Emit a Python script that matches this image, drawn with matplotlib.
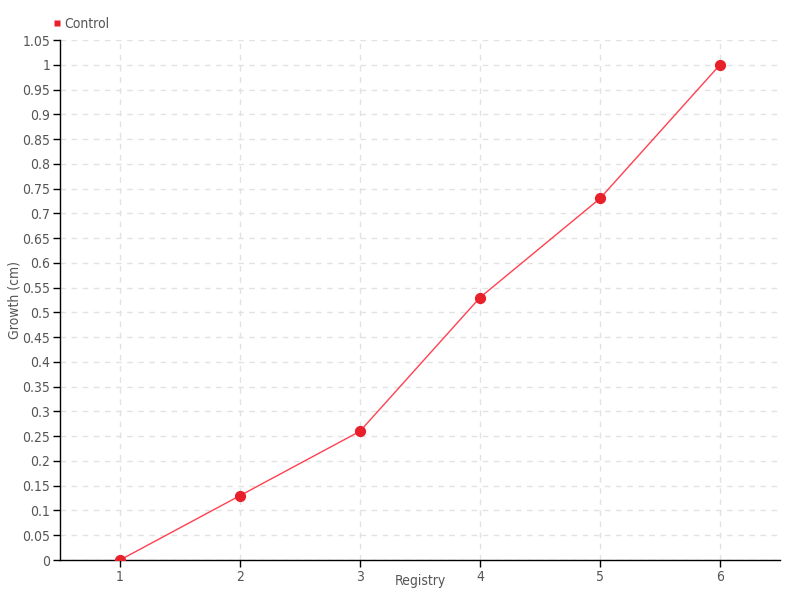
import matplotlib.pyplot as plt
from matplotlib.lines import Line2D

registry = [1, 2, 3, 4, 5, 6]
growth = [0, 0.13, 0.26, 0.53, 0.73, 1.0]
y_ticks = [round(i * 0.05, 2) for i in range(22)]
y_labels = ['0' if t == 0 else ('1' if t == 1 else f'{t:g}') for t in y_ticks]

plt.rcParams['font.family'] = ['DejaVu Sans']
plt.rcParams['font.stretch'] = 'condensed'
texto = '#555555'

fig = plt.figure(figsize=(8, 6), dpi=100)
ax = fig.add_axes([60 / 800, 40 / 600, 720 / 800, 520 / 600])

ax.plot(registry, growth, color='#ff4050', lw=1, zorder=3)
ax.scatter(registry, growth, s=50, color='#e8202a', zorder=4)

ax.set_xlim(0.5, 6.5)
ax.set_ylim(0, 1.05)
ax.set_xticks(registry)
ax.set_yticks(y_ticks)
ax.set_yticklabels(y_labels)
ax.grid(True, color='#e2e2e2', linestyle=(0, (4, 4)), lw=1)
ax.set_axisbelow(True)

for lado in ['top', 'right']:
    ax.spines[lado].set_visible(False)
for lado in ['left', 'bottom']:
    ax.spines[lado].set_color('black')
    ax.spines[lado].set_linewidth(1)
ax.tick_params(colors='black', labelcolor=texto, labelsize=10, length=5, width=1, pad=2)

# rotulos dos eixos posicionados a mao
fig.text(420 / 800, 1 - 581 / 600, 'Registry', color=texto, fontsize=10,
         ha='center', va='center')
fig.text(15 / 800, 0.5, 'Growth (cm)', color=texto, fontsize=10,
         ha='center', va='center', rotation=90)

handle = Line2D([], [], marker='s', color='none', markerfacecolor='#e8202a',
                markeredgecolor='none', markersize=5)
fig.legend([handle], ['Control'], loc='upper left', bbox_to_anchor=(0.052, 0.993),
           frameon=False, handlelength=0.4, handletextpad=0.3,
           fontsize=10, labelcolor=texto)

fig.savefig('out.png')
plt.close('all')
